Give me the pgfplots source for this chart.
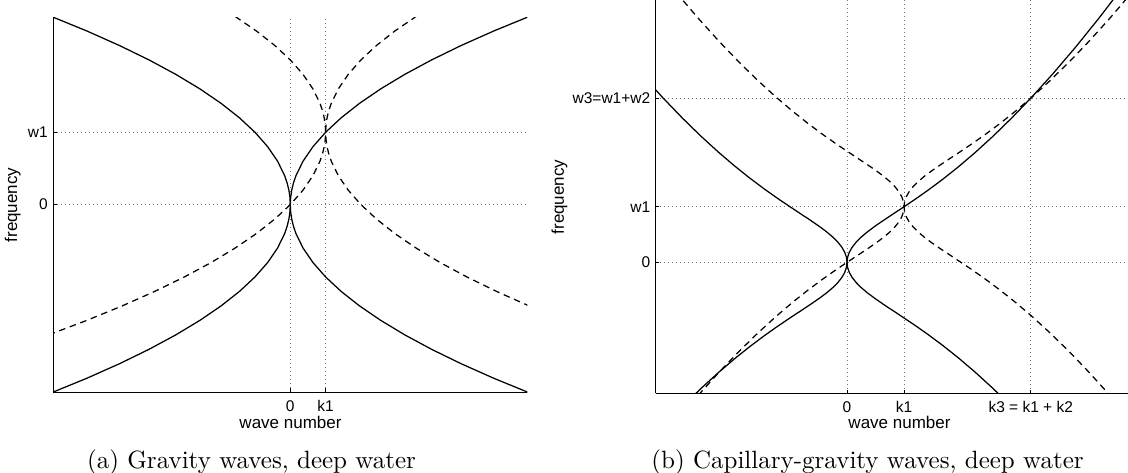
\documentclass[border=0pt]{standalone}
\usepackage{fontspec}
\usepackage{pgfplots}
\pgfplotsset{compat=1.18}
\newfontfamily\arial{Liberation Sans}

% 1 px of the reference = 0.4pt
\pgfplotsset{
  mlab/.style={
    scale only axis,
    axis x line*=bottom, axis y line*=left,
    axis line style={-, black, line width=0.4pt},
    tick align=inside, major tick length=1.4pt,
    tick style={black, line width=0.4pt},
    grid=major,
    grid style={black!55, line width=0.4pt, dash pattern=on 0.4pt off 1.2pt},
    tick label style={font=\arial\fontsize{6.2}{7.4}\selectfont, inner sep=0pt},
    xticklabel style={anchor=base, yshift=-7.84pt},
    yticklabel style={anchor=east, xshift=-2pt},
  },
  solid curve/.style={black, line width=0.5pt},
  dashed curve/.style={black, line width=0.5pt, dash pattern=on 2.6pt off 1.9pt},
}

\begin{document}
\begin{tikzpicture}
\useasboundingbox (0,0) rectangle (451.2pt,-189.2pt);

% (a) gravity waves
\begin{axis}[mlab,
    at={(21.32pt,-156.8pt)}, anchor=south west,
    width=189.6pt, height=149.9pt,
    xmin=-6.71, xmax=6.71, ymin=-2.59, ymax=2.59,
    xtick={0,1}, xticklabels={0,k1},
    ytick={0,1}, yticklabels={0,w1},
]
\addplot[solid curve] coordinates {(-6.76,-2.6) (-5.76,-2.4) (-4.84,-2.2) (-4,-2) (-3.24,-1.8) (-2.56,-1.6) (-1.96,-1.4) (-1.44,-1.2) (-1,-1) (-0.64,-0.8) (-0.36,-0.6) (-0.16,-0.4) (-0.09,-0.3) (-0.04,-0.2) (-0.01,-0.1) (0,0) (0.01,0.1) (0.04,0.2) (0.09,0.3) (0.16,0.4) (0.36,0.6) (0.64,0.8) (1,1) (1.44,1.2) (1.96,1.4) (2.56,1.6) (3.24,1.8) (4,2) (4.84,2.2) (5.76,2.4) (6.76,2.6)};
\addplot[solid curve] coordinates {(-6.76,2.6) (-5.76,2.4) (-4.84,2.2) (-4,2) (-3.24,1.8) (-2.56,1.6) (-1.96,1.4) (-1.44,1.2) (-1,1) (-0.64,0.8) (-0.36,0.6) (-0.16,0.4) (-0.09,0.3) (-0.04,0.2) (-0.01,0.1) (0,0) (0.01,-0.1) (0.04,-0.2) (0.09,-0.3) (0.16,-0.4) (0.36,-0.6) (0.64,-0.8) (1,-1) (1.44,-1.2) (1.96,-1.4) (2.56,-1.6) (3.24,-1.8) (4,-2) (4.84,-2.2) (5.76,-2.4) (6.76,-2.6)};
\addplot[dashed curve] coordinates {(-6.84,-1.8) (-5.76,-1.6) (-4.76,-1.4) (-3.84,-1.2) (-3,-1) (-2.24,-0.8) (-1.56,-0.6) (-0.96,-0.4) (-0.44,-0.2) (0,0) (0.36,0.2) (0.64,0.4) (0.84,0.6) (0.91,0.7) (0.96,0.8) (0.99,0.9) (1,1) (1.01,1.1) (1.04,1.2) (1.09,1.3) (1.16,1.4) (1.36,1.6) (1.64,1.8) (2,2) (2.44,2.2) (2.96,2.4) (3.56,2.6)};
\addplot[dashed curve] coordinates {(-1.56,2.6) (-0.96,2.4) (-0.44,2.2) (0,2) (0.36,1.8) (0.64,1.6) (0.84,1.4) (0.91,1.3) (0.96,1.2) (0.99,1.1) (1,1) (1.01,0.9) (1.04,0.8) (1.09,0.7) (1.16,0.6) (1.36,0.4) (1.64,0.2) (2,0) (2.44,-0.2) (2.96,-0.4) (3.56,-0.6) (4.24,-0.8) (5,-1) (5.84,-1.2) (6.76,-1.4)};
\end{axis}

% (b) capillary-gravity waves
\begin{axis}[mlab,
    at={(262.28pt,-157.32pt)}, anchor=south west,
    width=188.92pt, height=157.32pt,
    xmin=-3.356, xmax=4.93, ymin=-2.356, ymax=4.72,
    xtick={0,1,3.223}, xticklabels={0,k1,{k3 = k1 + k2}},
    ytick={0,1,2.95}, yticklabels={0,w1,{w3=w1+w2}},
]
\addplot[solid curve] coordinates {(-2.89,-2.5980) (-2.56,-2.2677) (-2.25,-1.9775) (-1.96,-1.7239) (-1.69,-1.5033) (-1.44,-1.3118) (-1.21,-1.1454) (-1,-1) (-0.81,-0.8714) (-0.64,-0.7559) (-0.49,-0.6499) (-0.36,-0.5505) (-0.25,-0.4554) (-0.16,-0.3629) (-0.09,-0.2716) (-0.04,-0.1810) (-0.01,-0.0905) (0,0) (0.01,0.0905) (0.04,0.1810) (0.09,0.2716) (0.16,0.3629) (0.25,0.4554) (0.36,0.5505) (0.49,0.6499) (0.64,0.7559) (0.81,0.8714) (1,1) (1.21,1.1454) (1.44,1.3118) (1.69,1.5033) (1.96,1.7239) (2.25,1.9775) (2.56,2.2677) (2.89,2.5980) (3.24,2.9715) (3.61,3.3913) (4,3.86) (4.41,4.3806) (4.84,4.9555)};
\addplot[solid curve] coordinates {(-3.61,3.3913) (-3.24,2.9715) (-2.89,2.5980) (-2.56,2.2677) (-2.25,1.9775) (-1.96,1.7239) (-1.69,1.5033) (-1.44,1.3118) (-1.21,1.1454) (-1,1) (-0.81,0.8714) (-0.64,0.7559) (-0.49,0.6499) (-0.36,0.5505) (-0.25,0.4554) (-0.16,0.3629) (-0.09,0.2716) (-0.04,0.1810) (-0.01,0.0905) (0,0) (0.01,-0.0905) (0.04,-0.1810) (0.09,-0.2716) (0.16,-0.3629) (0.25,-0.4554) (0.36,-0.5505) (0.49,-0.6499) (0.64,-0.7559) (0.81,-0.8714) (1,-1) (1.21,-1.1454) (1.44,-1.3118) (1.69,-1.5033) (1.96,-1.7239) (2.25,-1.9775) (2.56,-2.2677) (2.89,-2.5980)};
\addplot[dashed curve] coordinates {(-2.61,-2.3913) (-2.24,-1.9715) (-1.89,-1.5980) (-1.56,-1.2677) (-1.25,-0.9775) (-0.96,-0.7239) (-0.69,-0.5033) (-0.44,-0.3118) (-0.21,-0.1454) (0,0) (0.19,0.1286) (0.36,0.2441) (0.51,0.3501) (0.64,0.4495) (0.75,0.5446) (0.84,0.6371) (0.91,0.7284) (0.96,0.8190) (0.99,0.9095) (1,1) (1.01,1.0905) (1.04,1.1810) (1.09,1.2716) (1.16,1.3629) (1.25,1.4554) (1.36,1.5505) (1.49,1.6499) (1.64,1.7559) (1.81,1.8714) (2,2) (2.21,2.1454) (2.44,2.3118) (2.69,2.5033) (2.96,2.7239) (3.25,2.9775) (3.56,3.2677) (3.89,3.5980) (4.24,3.9715) (4.61,4.3913) (5,4.86)};
\addplot[dashed curve] coordinates {(-3,4.86) (-2.61,4.3913) (-2.24,3.9715) (-1.89,3.5980) (-1.56,3.2677) (-1.25,2.9775) (-0.96,2.7239) (-0.69,2.5033) (-0.44,2.3118) (-0.21,2.1454) (0,2) (0.19,1.8714) (0.36,1.7559) (0.51,1.6499) (0.64,1.5505) (0.75,1.4554) (0.84,1.3629) (0.91,1.2716) (0.96,1.1810) (0.99,1.0905) (1,1) (1.01,0.9095) (1.04,0.8190) (1.09,0.7284) (1.16,0.6371) (1.25,0.5446) (1.36,0.4495) (1.49,0.3501) (1.64,0.2441) (1.81,0.1286) (2,0) (2.21,-0.1454) (2.44,-0.3118) (2.69,-0.5033) (2.96,-0.7239) (3.25,-0.9775) (3.56,-1.2677) (3.89,-1.5980) (4.24,-1.9715) (4.61,-2.3913)};
\end{axis}

% axis labels and sub-captions
\begin{scope}[every node/.style={font=\arial\fontsize{6.8}{8}\selectfont, inner sep=0pt}]
\node[anchor=base] at (116.2pt,-171.32pt) {wave number};
\node[anchor=base] at (359.8pt,-171.32pt) {wave number};
\node[rotate=90, anchor=base] at (6.88pt,-82pt) {frequency};
\node[rotate=90, anchor=base] at (225.52pt,-78.8pt) {frequency};
\end{scope}
\node[anchor=base, inner sep=0pt, font=\fontsize{10}{12}\selectfont] at (100.6pt,-187.2pt) {(a) Gravity waves, deep water};
\node[anchor=base, inner sep=0pt, font=\fontsize{10}{12}\selectfont] at (347pt,-187.2pt) {(b) Capillary-gravity waves, deep water};
\end{tikzpicture}
\end{document}
